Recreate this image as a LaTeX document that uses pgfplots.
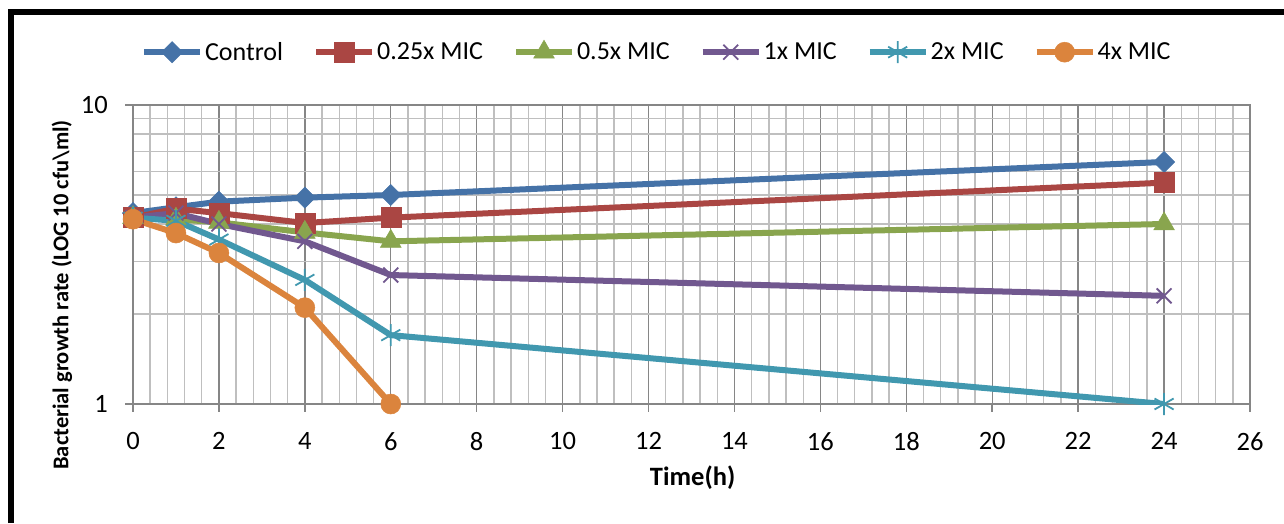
\documentclass[border=0pt]{standalone}
\usepackage{fontspec}
\setmainfont{Carlito}
\usepackage{pgfplots}
\pgfplotsset{compat=1.18}

\definecolor{cCtrl}{HTML}{4572A7}
\definecolor{cQtr}{HTML}{AA4643}
\definecolor{cHalf}{HTML}{89A54E}
\definecolor{cOne}{HTML}{71588F}
\definecolor{cTwo}{HTML}{4198AF}
\definecolor{cFour}{HTML}{DB843D}
\definecolor{gridmaj}{HTML}{868686}
\definecolor{gridmin}{HTML}{BFBFBF}

\begin{document}
\begin{tikzpicture}[x=1pt,y=1pt]
\path[use as bounding box] (0,0) rectangle (1284,523);
% frame (left and top edges of the cropped box)
\draw[line width=6pt] (11,0) -- (11,510.5) -- (1284,510.5);

\begin{axis}[
  at={(133pt,119pt)}, anchor=south west,
  scale only axis, width=1117pt, height=299pt,
  ymode=log, ymin=1, ymax=10,
  xmin=0, xmax=26,
  xtick={0,2,...,26}, minor x tick num=4,
  ytick={1,10}, yticklabels={1,10},
  minor ytick={2,3,4,5,6,7,8,9},
  /pgf/number format/assume math mode=true,
  grid=both,
  major grid style={color=gridmaj, line width=1.4pt},
  minor grid style={color=gridmin, line width=1.4pt},
  axis line style={color=gridmaj, line width=1.5pt},
  tick align=outside, major tick length=8pt, minor tick length=0pt,
  tick style={color=gridmaj, line width=1.5pt},
  xtick pos=bottom, ytick pos=left,
  xticklabel style={font=\fontsize{26.5}{30}\selectfont, anchor=north, inner sep=0pt, yshift=-20pt},
  yticklabel style={font=\fontsize{26.5}{30}\selectfont, anchor=east, inner sep=0pt, xshift=-17pt},
  xlabel={\textbf{Time(h)}},
  xlabel style={font=\fontsize{26.5}{30}\selectfont, at={(axis description cs:0.501,-0.247)}, anchor=center},
  ylabel={\textbf{Bacterial growth rate (LOG 10 cfu\textbackslash ml)}},
  ylabel style={font=\fontsize{22.5}{26}\selectfont, at={(axis description cs:-0.0636,0.365)}, anchor=center},
  legend columns=6,
  legend style={at={(0.469,1.177)}, anchor=center, draw=none, fill=none,
    font=\fontsize{26}{30}\selectfont,
    /tikz/every even column/.append style={column sep=28pt},
    nodes={inner sep=2pt}},
  legend cell align=left,
  legend image code/.code={
    \draw[mark repeat=2, mark phase=2] plot coordinates {(0pt,0pt) (28pt,0pt) (56pt,0pt)};
  },
  every axis plot/.append style={line width=6pt},
]
\addplot[color=cCtrl, mark=square*, mark size=7.5pt, mark options={rotate=45, line width=0.5pt}]
  coordinates {(0,4.35) (1,4.55) (2,4.75) (4,4.9) (6,5.0) (24,6.45)};
\addlegendentry{Control}
\addplot[color=cQtr, mark=square*, mark size=10pt, mark options={line width=0.5pt}]
  coordinates {(0,4.2) (1,4.5) (2,4.35) (4,4.03) (6,4.2) (24,5.5)};
\addlegendentry{0.25x MIC}
\addplot[color=cHalf, mark=triangle*, mark size=12pt, mark options={line width=0.5pt}]
  coordinates {(0,4.2) (1,4.15) (2,4.05) (4,3.75) (6,3.5) (24,4.0)};
\addlegendentry{0.5x MIC}
\addplot[color=cOne, mark=x, mark size=10.5pt, mark options={line width=1.8pt}]
  coordinates {(0,4.2) (1,4.35) (2,4.0) (4,3.5) (6,2.7) (24,2.3)};
\addlegendentry{1x MIC}
\addplot[color=cTwo, mark=asterisk, mark size=11pt, mark options={line width=1.8pt}]
  coordinates {(0,4.2) (1,4.1) (2,3.55) (4,2.6) (6,1.7) (24,1.0)};
\addlegendentry{2x MIC}
\addplot[color=cFour, mark=*, mark size=10pt, mark options={line width=0.5pt}]
  coordinates {(0,4.15) (1,3.73) (2,3.2) (4,2.1) (6,1.0)};
\addlegendentry{4x MIC}
\end{axis}
\end{tikzpicture}
\end{document}
